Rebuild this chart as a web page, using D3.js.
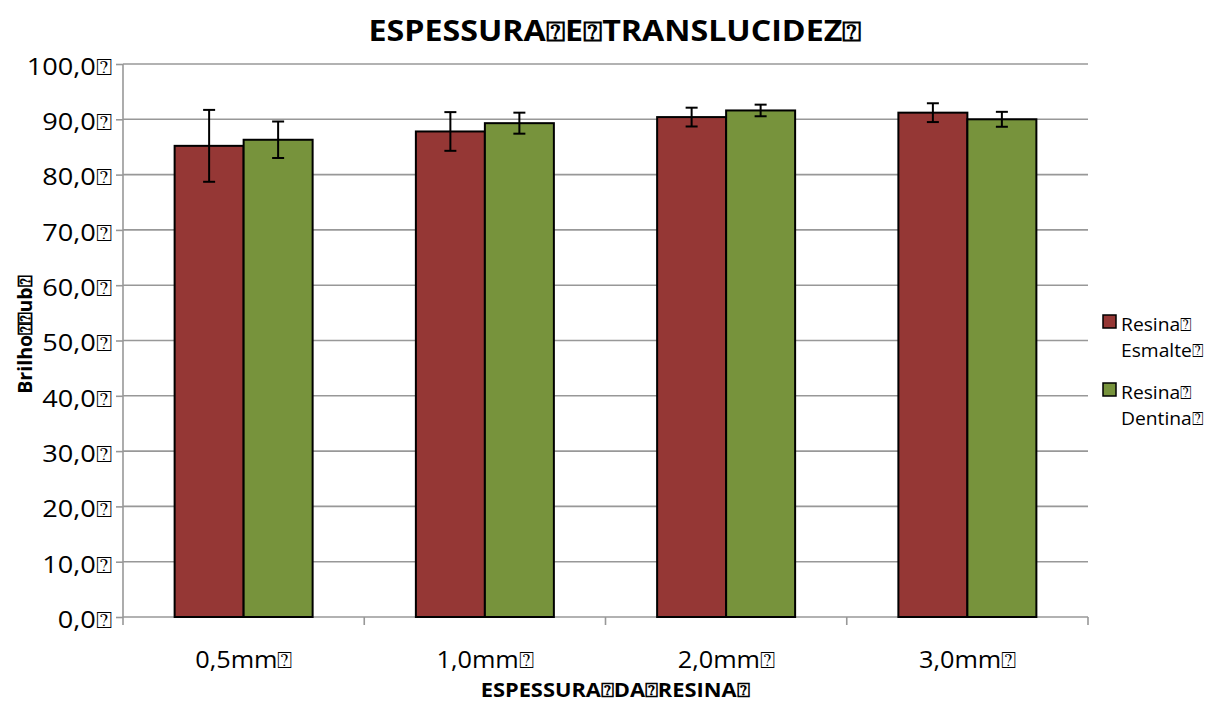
<!DOCTYPE html>
<html>
<head>
<meta charset="utf-8">
<script src="https://cdn.jsdelivr.net/npm/d3@7"></script>
<style>
  body { margin: 0; background: #fff; }
  text { font-family: "Open Sans", sans-serif; }
</style>
</head>
<body>
<div id="chart"></div>
<script>
// data
var box = "\u2370";
var categories = ["0,5mm", "1,0mm", "2,0mm", "3,0mm"];
var series = ["Resina Esmalte", "Resina Dentina"];
var esmalte = [85.2, 87.8, 90.4, 91.2];
var dentina = [86.3, 89.3, 91.6, 90.0];
var esmalteErr = [6.5, 3.5, 1.7, 1.7];
var dentinaErr = [3.3, 1.9, 1.05, 1.35];
var yTicks = [0, 10, 20, 30, 40, 50, 60, 70, 80, 90, 100];
var colors = ["#953735", "#77933c"];

var W = 1206, H = 704;
var margin = {top: 64, right: 118, bottom: 87, left: 123};
var width = W - margin.left - margin.right, height = H - margin.top - margin.bottom;

var svg = d3.select("#chart").append("svg").attr("width", W).attr("height", H)
var g = svg.append("g").attr("transform", "translate(" + margin.left + "," + margin.top + ")");

var y = d3.scaleLinear().domain([0, 100]).range([height, 0]);
var x = d3.scaleBand().domain(categories).range([0, width]);
var x1 = d3.scaleBand().domain(series).range([0, 138]);
var off = (x.bandwidth() - 138) / 2;

// the original text is set in a wider face, so stretch it sideways
function wide(sel, sx, px, py) {
  sel.attr("transform", "translate(" + px + "," + py + ") scale(" + sx + ",1)").attr("x", 0).attr("y", 0);
}

// gridlines
g.selectAll(".grid").data(yTicks.slice(1)).enter().append("line")
  .attr("x1", 0).attr("x2", width).attr("y1", d => y(d)).attr("y2", d => y(d))
  .attr("stroke", "#989898").attr("stroke-width", 1.6);

// y axis
var yAxis = g.append("g").call(d3.axisLeft(y).tickValues(yTicks).tickSize(7).tickPadding(4)
  .tickFormat(d => d3.format(".1f")(d).replace(".", ",") + box));
yAxis.selectAll("line, path").attr("stroke", "#989898").attr("stroke-width", 1.6);
yAxis.select(".domain").attr("d", "M0," + height + "V0");
yAxis.selectAll("text").attr("font-size", 23).attr("fill", "#000").attr("font-family", "Open Sans")
  .attr("dy", "0.45em").call(wide, 1.18, -11, 0);

// x axis
var xAxis = g.append("g").attr("transform", "translate(0," + height + ")")
  .call(d3.axisBottom(x).tickSize(0).tickFormat(d => d + box));
xAxis.select(".domain").attr("d", "M0,0H" + width).attr("stroke", "#989898").attr("stroke-width", 1.6);
xAxis.selectAll("text").attr("font-size", 23).attr("fill", "#000").attr("font-family", "Open Sans")
  .attr("dy", 0).call(wide, 1.1, 0, 51);
g.selectAll(".xtick").data(d3.range(categories.length + 1)).enter().append("line")
  .attr("x1", d => d * x.step()).attr("x2", d => d * x.step())
  .attr("y1", height).attr("y2", height + 8)
  .attr("stroke", "#989898").attr("stroke-width", 1.6);

// bars
var rows = categories.map((c, i) => ({cat: c, vals: [
  {s: series[0], v: esmalte[i], e: esmalteErr[i], c: colors[0]},
  {s: series[1], v: dentina[i], e: dentinaErr[i], c: colors[1]}]}));

var groups = g.selectAll(".cat").data(rows).enter().append("g")
  .attr("transform", d => "translate(" + (x(d.cat) + off) + ",0)");

groups.selectAll("rect").data(d => d.vals).enter().append("rect")
  .attr("x", d => x1(d.s)).attr("width", x1.bandwidth())
  .attr("y", d => y(d.v)).attr("height", d => height - y(d.v))
  .attr("fill", d => d.c).attr("stroke", "#000").attr("stroke-width", 2);

var eb = groups.selectAll(".err").data(d => d.vals).enter().append("g")
  .attr("transform", d => "translate(" + (x1(d.s) + x1.bandwidth() / 2) + ",0)");
eb.append("line").attr("y1", d => y(d.v + d.e)).attr("y2", d => y(d.v - d.e))
  .attr("stroke", "#000").attr("stroke-width", 2);
eb.selectAll(".cap").data(d => [d.v + d.e, d.v - d.e]).enter().append("line")
  .attr("x1", -6).attr("x2", 6).attr("y1", d => y(d)).attr("y2", d => y(d))
  .attr("stroke", "#000").attr("stroke-width", 2);

// titles
svg.append("text").attr("text-anchor", "middle")
  .attr("font-size", 28).attr("font-weight", "bold")
  .text("ESPESSURA" + box + "E" + box + "TRANSLUCIDEZ" + box).call(wide, 1.15, 615, 41);
svg.append("text").attr("text-anchor", "middle")
  .attr("font-size", 19).attr("font-weight", "bold")
  .text("ESPESSURA" + box + "DA" + box + "RESINA" + box).call(wide, 1.15, 615, 697);
svg.append("text").attr("transform", "translate(32,335) rotate(-90) scale(1.03,1)").attr("text-anchor", "middle")
  .attr("font-size", 19).attr("font-weight", "bold")
  .text("Brilho" + box + box + "ub" + box);

// legend
var leg = svg.selectAll(".leg").data(series).enter().append("g")
  .attr("transform", (d, i) => "translate(1103," + (315 + i * 68) + ")");
leg.append("rect").attr("width", 13).attr("height", 13)
  .attr("fill", (d, i) => colors[i]).attr("stroke", "#000").attr("stroke-width", 1.5);
leg.selectAll(".lt").data(d => d.split(" ")).enter().append("text")
  .attr("font-size", 18).text(d => d + box)
  .each(function(d, i) { d3.select(this).call(wide, 1.07, 18, 16 + i * 26); });
</script>
</body>
</html>
